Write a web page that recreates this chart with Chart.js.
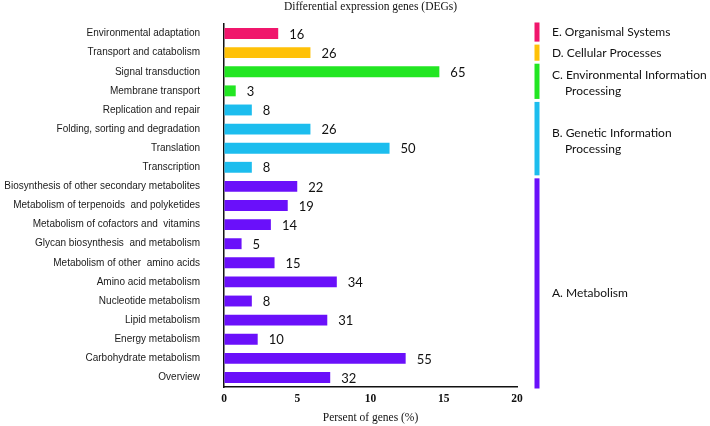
<!DOCTYPE html>
<html>
<head>
<meta charset="utf-8">
<title>Differential expression genes (DEGs)</title>
<script src="https://cdn.jsdelivr.net/npm/chart.js"></script>
<style>
    body { margin: 0; background: #fff; }
    #wrap { width: 710px; height: 426px; }
</style>
</head>
<body>
<div id="wrap">
    <canvas id="degChart" width="710" height="426"></canvas>
</div>
<script>
    // KEGG categories, top to bottom
    var categories = [
        "Environmental adaptation",
        "Transport and catabolism",
        "Signal transduction",
        "Membrane transport",
        "Replication and repair",
        "Folding, sorting and degradation",
        "Translation",
        "Transcription",
        "Biosynthesis of other secondary metabolites",
        "Metabolism of terpenoids  and polyketides",
        "Metabolism of cofactors and  vitamins",
        "Glycan biosynthesis  and metabolism",
        "Metabolism of other  amino acids",
        "Amino acid metabolism",
        "Nucleotide metabolism",
        "Lipid metabolism",
        "Energy metabolism",
        "Carbohydrate metabolism",
        "Overview"
    ];

    // percent of genes (bar length)
    var percents = [3.7, 5.9, 14.7, 0.8, 1.9, 5.9, 11.3, 1.9, 5.0, 4.35, 3.2, 1.2, 3.45, 7.7, 1.9, 7.05, 2.3, 12.4, 7.25];

    // number of genes (label next to the bar)
    var geneCounts = [16, 26, 65, 3, 8, 26, 50, 8, 22, 19, 14, 5, 15, 34, 8, 31, 10, 55, 32];

    // group of each category
    var categoryGroup = ["E", "D", "C", "C", "B", "B", "B", "B", "A", "A", "A", "A", "A", "A", "A", "A", "A", "A", "A"];

    var groupKeys = ["E", "D", "C", "B", "A"];
    var groupLabels = [
        ["E. Organismal Systems"],
        ["D. Cellular Processes"],
        ["C. Environmental Information", "Processing"],
        ["B. Genetic Information", "Processing"],
        ["A. Metabolism"]
    ];

    var xTicks = [0, 5, 10, 15, 20];

    var chartTitle = "Differential expression genes (DEGs)";

    var groupColors = {
        E: "#f0166c",
        D: "#ffc107",
        C: "#22e622",
        B: "#1cbdee",
        A: "#6a10fa"
    };

    // title centred over the plot area
    var plotTitle = {
        id: "plotTitle",
        afterDraw: function (chart) {
            var ctx = chart.ctx;
            var area = chart.chartArea;
            ctx.save();
            ctx.font = "11.5px 'Liberation Serif'";
            ctx.fillStyle = "#111";
            ctx.textAlign = "center";
            ctx.textBaseline = "middle";
            ctx.fillText(chartTitle, (area.left + area.right) / 2, 7);
            ctx.restore();
        }
    };

    // gene counts after each bar
    var valueLabels = {
        id: "valueLabels",
        afterDatasetsDraw: function (chart) {
            var ctx = chart.ctx;
            var meta = chart.getDatasetMeta(0);
            ctx.save();
            ctx.font = "13px Lato";
            ctx.fillStyle = "#111";
            ctx.textAlign = "left";
            ctx.textBaseline = "middle";
            meta.data.forEach(function (bar, i) {
                ctx.fillText(String(geneCounts[i]), bar.x + 11, bar.y + 1);
            });
            ctx.restore();
        }
    };

    // coloured strips + group names on the right
    var groupStrips = {
        id: "groupStrips",
        afterDraw: function (chart) {
            var ctx = chart.ctx;
            var yScale = chart.scales.y;
            var area = chart.chartArea;
            var band = (area.bottom - area.top) / categories.length;

            ctx.save();
            ctx.font = "12px Lato";
            ctx.textAlign = "left";
            ctx.textBaseline = "middle";

            groupKeys.forEach(function (key, g) {
                var first = categoryGroup.indexOf(key);
                var last = categoryGroup.lastIndexOf(key);
                var top = yScale.getPixelForValue(first) - band / 2 + 1.5;
                var bottom = yScale.getPixelForValue(last) + band / 2 - 1.5;
                if (g === 0) top -= 3;
                if (g === groupKeys.length - 1) bottom += 3;

                ctx.fillStyle = groupColors[key];
                ctx.fillRect(area.right + 17.5, top, 5, bottom - top);

                var lines = groupLabels[g];
                var lineH = 16;
                var y0 = (top + bottom) / 2 - (lines.length - 1) * lineH / 2;
                if (lines.length > 1) y0 += 2;
                if (g === groupKeys.length - 1) y0 += 10;
                ctx.fillStyle = "#111";
                lines.forEach(function (line, k) {
                    ctx.fillText(line, area.right + 35 + (k > 0 ? 13 : 0), y0 + k * lineH);
                });
            });
            ctx.restore();
        }
    };

    var ctx = document.getElementById("degChart").getContext("2d");
    var degChart = new Chart(ctx, {
        type: "bar",
        data: {
            labels: categories,
            datasets: [{
                data: percents,
                backgroundColor: categoryGroup.map(function (g) { return groupColors[g]; }),
                barPercentage: 0.57,
                categoryPercentage: 1
            }]
        },
        options: {
            indexAxis: "y",
            responsive: false,
            animation: false,
            layout: { padding: { top: 24, right: 193 } },
            plugins: {
                legend: { display: false },
                tooltip: { enabled: false },
                title: { display: false }
            },
            scales: {
                x: {
                    min: xTicks[0],
                    max: xTicks[xTicks.length - 1],
                    ticks: {
                        stepSize: xTicks[1] - xTicks[0],
                        color: "#111",
                        padding: 5,
                        font: { family: "Liberation Serif", size: 11.5, weight: "bold" }
                    },
                    grid: { drawOnChartArea: false, drawTicks: false },
                    border: { color: "#111", width: 1.5 },
                    title: {
                        display: true,
                        text: "Persent of genes (%)",
                        color: "#111",
                        font: { family: "Liberation Serif", size: 11.5 },
                        padding: { top: 0, bottom: 1 }
                    },
                    afterFit: function (scale) { scale.height = 39; }
                },
                y: {
                    ticks: {
                        color: "#1a1a1a",
                        padding: 3,
                        font: { family: "Liberation Sans", size: 10 }
                    },
                    // invisible tick marks keep the labels away from the axis
                    grid: { drawOnChartArea: false, drawTicks: true, tickLength: 21, tickColor: "rgba(0,0,0,0)" },
                    border: { color: "#111", width: 1.5 },
                    afterFit: function (scale) { scale.width = 224; }
                }
            }
        },
        plugins: [valueLabels, groupStrips, plotTitle]
    });
</script>
</body>
</html>
